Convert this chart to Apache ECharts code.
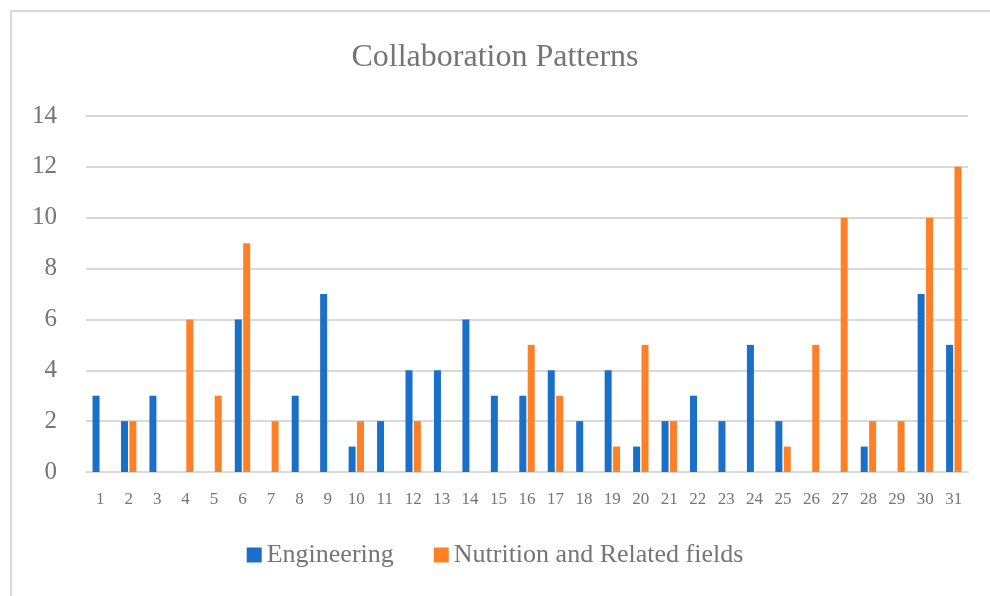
<!DOCTYPE html>
<html>
<head>
<meta charset="utf-8">
<script src="https://cdn.jsdelivr.net/npm/echarts@6/dist/echarts.min.js"></script>
<style>
  html, body { margin: 0; padding: 0; background: #fff; }
  #frame { position: absolute; left: 10px; top: 10px; width: 990px; height: 596px; border: 2px solid #d9d9d9; box-sizing: border-box; }
  #chart { position: absolute; left: 0; top: 0; width: 990px; height: 596px; }
</style>
</head>
<body>
<div id="frame"></div>
<div id="chart"></div>
<script>
// 数据
var categories = ['1','2','3','4','5','6','7','8','9','10','11','12','13','14','15','16','17','18','19','20','21','22','23','24','25','26','27','28','29','30','31'];
var engineering = [3,2,3,0,0,6,0,3,7,1,2,4,4,6,3,3,4,2,4,1,2,3,2,5,2,0,0,1,0,7,5];
var nutrition   = [0,2,0,6,3,9,2,0,0,2,0,2,0,0,0,5,3,0,1,5,2,0,0,0,1,5,10,2,2,10,12];
var yTicks = { min: 0, max: 14, interval: 2 };

var fontFam = '"Liberation Serif", "DejaVu Serif", serif';
var textGray = '#757575';

var myChart = echarts.init(document.getElementById('chart'));
var option = {
  backgroundColor: 'transparent',
  animation: false,
  title: {
    text: 'Collaboration Patterns',
    left: 'center',
    top: 37,
    textStyle: { fontFamily: fontFam, fontSize: 32, fontWeight: 'normal', color: textGray }
  },
  legend: {
    bottom: 23,
    left: 'center',
    itemWidth: 15,
    itemHeight: 15,
    itemGap: 40,
    icon: 'rect',
    textStyle: { fontFamily: fontFam, fontSize: 26, color: textGray }
  },
  grid: { left: 86, right: 22, top: 116, bottom: 124 },
  xAxis: {
    type: 'category',
    data: categories,
    axisTick: { show: false },
    axisLine: { lineStyle: { color: '#d9d9d9', width: 2 } },
    axisLabel: { color: textGray, fontFamily: fontFam, fontSize: 17, margin: 19, interval: 0 }
  },
  yAxis: {
    type: 'value',
    min: yTicks.min,
    max: yTicks.max,
    interval: yTicks.interval,
    axisLine: { show: false },
    axisTick: { show: false },
    splitLine: { lineStyle: { color: '#d9d9d9', width: 2 } },
    axisLabel: { color: textGray, fontFamily: fontFam, fontSize: 25, margin: 29 }
  },
  series: [
    {
      name: 'Engineering',
      type: 'bar',
      data: engineering,
      barWidth: 7,
      barGap: '20%',
      itemStyle: { color: '#1a70c8' }
    },
    {
      name: 'Nutrition and Related fields',
      type: 'bar',
      data: nutrition,
      barWidth: 7,
      barGap: '20%',
      itemStyle: { color: '#ff8027' }
    }
  ]
};
myChart.setOption(option);
window.addEventListener('resize', function () {
  myChart.resize();
});
</script>
</body>
</html>
